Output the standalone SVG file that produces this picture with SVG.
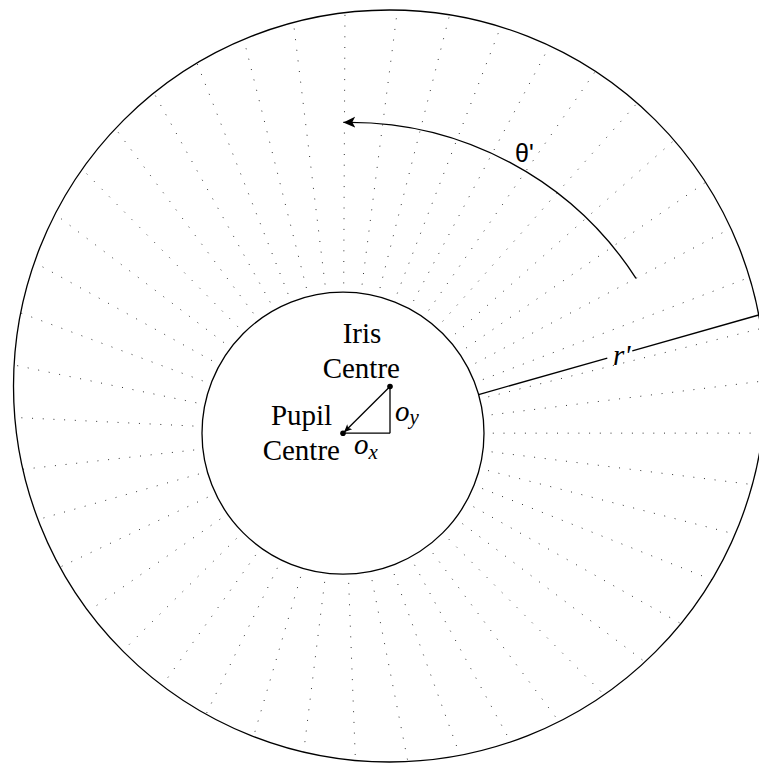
<svg xmlns="http://www.w3.org/2000/svg" width="759" height="763" viewBox="0 0 759 763">
<style>
.circ{fill:none;stroke:#000;stroke-width:1.3}
.ln{fill:none;stroke:#000;stroke-width:1.3}
.dot{stroke:#333;stroke-width:1;stroke-dasharray:1 9.7;fill:none}
.lbl{font-family:"Liberation Serif","Times New Roman",serif;font-size:29px;fill:#000}
.math{font-family:"Liberation Serif","Times New Roman",serif;font-style:italic;fill:#000}
.sans{font-family:"Liberation Sans",Arial,sans-serif;font-size:25px;fill:#000}
</style>
<defs>
<marker id="bigArrow" markerUnits="userSpaceOnUse" markerWidth="14" markerHeight="12" refX="12" refY="5.5" orient="auto">
<path d="M0,0 L12,5.5 L0,11 L3,5.5 z" fill="#000"/>
</marker>
<marker id="smallArrow" markerUnits="userSpaceOnUse" markerWidth="9" markerHeight="8" refX="8" refY="3.5" orient="auto">
<path d="M0,0 L8,3.5 L0,7 L2,3.5 z" fill="#000"/>
</marker>
</defs>
<rect width="759" height="763" fill="#fff"/>
<g id="connectors">
<g id="radial-lines" class="dot">
<line x1="343" y1="433.2" x2="762.53" y2="433.12"/>
<line x1="343" y1="433.2" x2="765.46" y2="380.75"/>
<line x1="343" y1="433.2" x2="761.06" y2="328.48"/>
<line x1="343" y1="433.2" x2="749.44" y2="277.33"/>
<line x1="343" y1="433.2" x2="730.82" y2="228.29"/>
<line x1="343" y1="433.2" x2="705.55" y2="182.32"/>
<line x1="343" y1="433.2" x2="674.12" y2="140.32"/>
<line x1="343" y1="433.2" x2="637.16" y2="103.10"/>
<line x1="343" y1="433.2" x2="595.38" y2="71.38"/>
<line x1="343" y1="433.2" x2="549.59" y2="45.79"/>
<line x1="343" y1="433.2" x2="500.68" y2="26.82"/>
<line x1="343" y1="433.2" x2="449.61" y2="14.85"/>
<line x1="343" y1="433.2" x2="397.37" y2="10.09"/>
<line x1="343" y1="433.2" x2="344.98" y2="12.65"/>
<line x1="343" y1="433.2" x2="293.45" y2="22.48"/>
<line x1="343" y1="433.2" x2="243.80" y2="39.39"/>
<line x1="343" y1="433.2" x2="196.98" y2="63.04"/>
<line x1="343" y1="433.2" x2="153.90" y2="92.98"/>
<line x1="343" y1="433.2" x2="115.41" y2="128.62"/>
<line x1="343" y1="433.2" x2="82.26" y2="169.27"/>
<line x1="343" y1="433.2" x2="55.09" y2="214.14"/>
<line x1="343" y1="433.2" x2="34.42" y2="262.35"/>
<line x1="343" y1="433.2" x2="20.67" y2="312.97"/>
<line x1="343" y1="433.2" x2="14.10" y2="365.01"/>
<line x1="343" y1="433.2" x2="14.83" y2="417.46"/>
<line x1="343" y1="433.2" x2="22.85" y2="469.30"/>
<line x1="343" y1="433.2" x2="38.01" y2="519.52"/>
<line x1="343" y1="433.2" x2="60.02" y2="567.14"/>
<line x1="343" y1="433.2" x2="88.43" y2="611.23"/>
<line x1="343" y1="433.2" x2="122.71" y2="650.94"/>
<line x1="343" y1="433.2" x2="162.18" y2="685.49"/>
<line x1="343" y1="433.2" x2="206.07" y2="714.21"/>
<line x1="343" y1="433.2" x2="253.53" y2="736.55"/>
<line x1="343" y1="433.2" x2="303.64" y2="752.06"/>
<line x1="343" y1="433.2" x2="355.42" y2="760.44"/>
<line x1="343" y1="433.2" x2="407.87" y2="761.54"/>
<line x1="343" y1="433.2" x2="459.95" y2="755.33"/>
<line x1="343" y1="433.2" x2="510.67" y2="741.93"/>
<line x1="343" y1="433.2" x2="559.03" y2="721.60"/>
<line x1="343" y1="433.2" x2="604.08" y2="694.74"/>
<line x1="343" y1="433.2" x2="644.96" y2="661.87"/>
<line x1="343" y1="433.2" x2="680.87" y2="623.64"/>
<line x1="343" y1="433.2" x2="714.46" y2="580.77"/>
<line x1="343" y1="433.2" x2="735.09" y2="534.12"/>
<line x1="343" y1="433.2" x2="752.34" y2="484.58"/>
</g>
</g>
<g id="outer-circle">
<circle class="circ" cx="389.5" cy="386" r="376"/>
</g>
<g id="inner-circle">
<circle cx="343" cy="433.2" r="141" fill="#fff" stroke="#000" stroke-width="1.3"/>
</g>
<g id="connectors-top">
<path id="theta-arc" class="ln" d="M636,278.3 A341,341 0 0 0 343.3,122.4" marker-end="url(#bigArrow)"/>
<line id="r-line-a" class="ln" x1="478.6" y1="394.6" x2="607.3" y2="358.05"/>
<line id="r-line-b" class="ln" x1="632.3" y1="350.9" x2="758.7" y2="315"/>
<line id="offset-arrow" class="ln" x1="390" y1="386.5" x2="344" y2="432.3" marker-end="url(#smallArrow)"/>
<line id="oy-line" class="ln" x1="390" y1="386.5" x2="390" y2="433.2"/>
<line id="ox-line" class="ln" x1="343" y1="433.2" x2="390" y2="433.2"/>
</g>
<g id="iris-centre">
<circle cx="390" cy="386.5" r="2.8" fill="#000"/>
<text class="lbl" x="362" y="343" text-anchor="middle">Iris</text>
<text class="lbl" x="361.3" y="378" text-anchor="middle">Centre</text>
</g>
<g id="pupil-centre">
<circle cx="343" cy="433.2" r="2.8" fill="#000"/>
<text class="lbl" x="301.5" y="425" text-anchor="middle">Pupil</text>
<text class="lbl" x="301.3" y="460" text-anchor="middle">Centre</text>
</g>
<g id="labels">
<text class="math" x="395" y="421" font-size="29">o<tspan font-size="21" dy="3">y</tspan></text>
<text class="math" x="354" y="454" font-size="29">o<tspan font-size="21" dy="5">x</tspan></text>
<text class="sans" x="515" y="161.5">θ'</text>
<text class="math" x="613" y="365" font-size="29">r'</text>
</g>
</svg>
